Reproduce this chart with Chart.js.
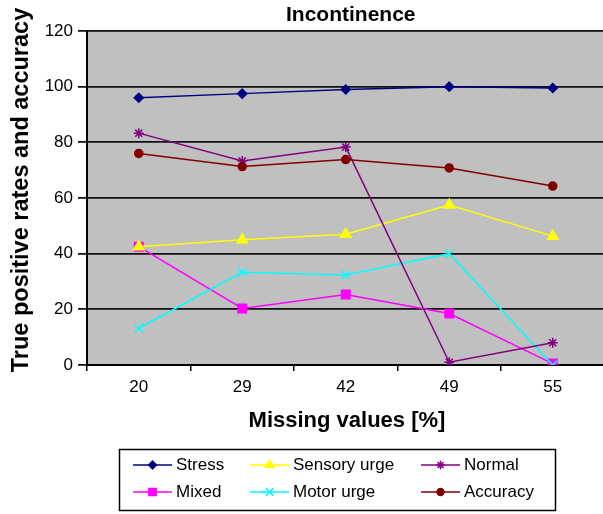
<!DOCTYPE html>
<html lang="en">
<head>
    <meta charset="UTF-8">
    <title>Incontinence</title>
    <script src="https://cdn.jsdelivr.net/npm/chart.js"></script>
    <style>
        html, body { margin: 0; padding: 0; background: #fff; overflow: hidden; }
        #wrap { width: 603px; height: 514px; overflow: hidden; }
    </style>
</head>
<body>
    <div id="wrap">
        <canvas id="chart" width="612" height="514" style="width: 612px; height: 514px; display: block;"></canvas>
    </div>
    <script>
        // chart data
        const missingValues = ['20', '29', '42', '49', '55'];
        const stress = [96, 97.5, 99, 100, 99.5];
        const mixed = [42.5, 20.3, 25.3, 18.5, 0.5];
        const sensoryUrge = [42.5, 45, 47, 57.5, 46.3];
        const motorUrge = [13.2, 33.3, 32.3, 40, 0];
        const normal = [83.3, 73.3, 78.3, 1, 8];
        const accuracy = [76, 71.3, 73.8, 70.8, 64.3];

        const yTicks = { min: 0, max: 120, step: 20 };

        const FONT = "'Liberation Sans', Arial, Helvetica, sans-serif";

        function series(label, values, color, pointStyle, radius) {
            return {
                label: label,
                data: values,
                borderColor: color,
                backgroundColor: color,
                borderWidth: 1.5,
                pointStyle: pointStyle,
                pointRadius: radius,
                pointBorderColor: color,
                pointBackgroundColor: color,
                pointBorderWidth: 1.5,
                tension: 0,
                fill: false
            };
        }

        const datasets = [
            series('Stress', stress, '#000080', 'rectRot', 4.5),
            series('Mixed', mixed, '#FF00FF', 'rect', 6),
            series('Sensory urge', sensoryUrge, '#FFFF00', 'triangle', 6),
            series('Motor urge', motorUrge, '#00FFFF', 'crossRot', 6),
            series('Normal', normal, '#800080', 'star', 5),
            series('Accuracy', accuracy, '#800000', 'circle', 4)
        ];
        // later series on top, like the original
        datasets.forEach((d, i) => d.order = datasets.length - i);

        const plotBackground = {
            id: 'plotBackground',
            beforeDraw(chart) {
                const { ctx, chartArea: a } = chart;
                ctx.save();
                ctx.fillStyle = '#C0C0C0';
                ctx.fillRect(a.left, a.top, a.right - a.left, a.bottom - a.top);
                ctx.restore();
            }
        };

        const texts = {
            id: 'texts',
            afterDraw(chart) {
                const { ctx, chartArea: a } = chart;
                ctx.save();
                ctx.fillStyle = '#000';
                ctx.textAlign = 'center';
                ctx.textBaseline = 'alphabetic';

                ctx.font = 'bold 21px ' + FONT;
                ctx.fillText('Incontinence', (a.left + a.right) / 2 + 5, 21);

                ctx.font = 'bold 22px ' + FONT;
                ctx.fillText('Missing values [%]', 347, 427);

                ctx.translate(28, 190);
                ctx.rotate(-Math.PI / 2);
                ctx.font = 'bold 23.5px ' + FONT;
                ctx.fillText('True positive rates and accuracy', 0, 0);
                ctx.restore();
            }
        };

        // Excel-like legend box, two rows by three columns
        const boxLegend = {
            id: 'boxLegend',
            afterDraw(chart) {
                const { ctx } = chart;
                const colX = [176, 293, 464];
                const rowY = [465, 492];
                ctx.save();
                ctx.strokeStyle = '#000';
                ctx.lineWidth = 1.5;
                ctx.strokeRect(119.5, 449.5, 436, 61);

                chart.data.datasets.forEach((ds, i) => {
                    const x = colX[Math.floor(i / 2)];
                    const y = rowY[i % 2];
                    ctx.strokeStyle = ds.borderColor;
                    ctx.lineWidth = 1.5;
                    ctx.beginPath();
                    ctx.moveTo(x - 43, y);
                    ctx.lineTo(x - 4, y);
                    ctx.stroke();
                    ctx.fillStyle = ds.borderColor;
                    Chart.helpers.drawPoint(ctx, {
                        pointStyle: ds.pointStyle,
                        radius: ds.pointRadius * 0.85,
                        rotation: 0,
                        borderWidth: 1.5
                    }, x - 23.5, y);
                    ctx.fillStyle = '#000';
                    ctx.font = '17px ' + FONT;
                    ctx.textAlign = 'left';
                    ctx.textBaseline = 'middle';
                    ctx.fillText(ds.label, x, y);
                });
                ctx.restore();
            }
        };

        new Chart(document.getElementById('chart'), {
            type: 'line',
            data: {
                labels: missingValues,
                datasets: datasets
            },
            plugins: [plotBackground, texts, boxLegend],
            options: {
                responsive: false,
                animation: false,
                events: [],
                layout: {
                    padding: { top: 31, right: 3, bottom: 0, left: 0 }
                },
                plugins: {
                    legend: { display: false },
                    title: { display: false },
                    tooltip: { enabled: false }
                },
                scales: {
                    x: {
                        offset: true,
                        afterFit: scale => { scale.height = 149; },
                        grid: {
                            offset: true,
                            drawOnChartArea: false,
                            drawTicks: true,
                            tickLength: 6,
                            color: '#000',
                            lineWidth: 1.5
                        },
                        border: { color: '#000', width: 2 },
                        ticks: {
                            color: '#000',
                            font: { family: FONT, size: 17 },
                            padding: 6,
                            maxRotation: 0
                        }
                    },
                    y: {
                        min: yTicks.min,
                        max: yTicks.max,
                        afterFit: scale => { scale.width = 87; },
                        grid: {
                            color: '#111',
                            lineWidth: 1.75,
                            tickLength: 9
                        },
                        border: { color: '#000', width: 2 },
                        ticks: {
                            stepSize: yTicks.step,
                            color: '#000',
                            font: { family: FONT, size: 17 },
                            padding: 5
                        }
                    }
                }
            }
        });
    </script>
</body>
</html>
